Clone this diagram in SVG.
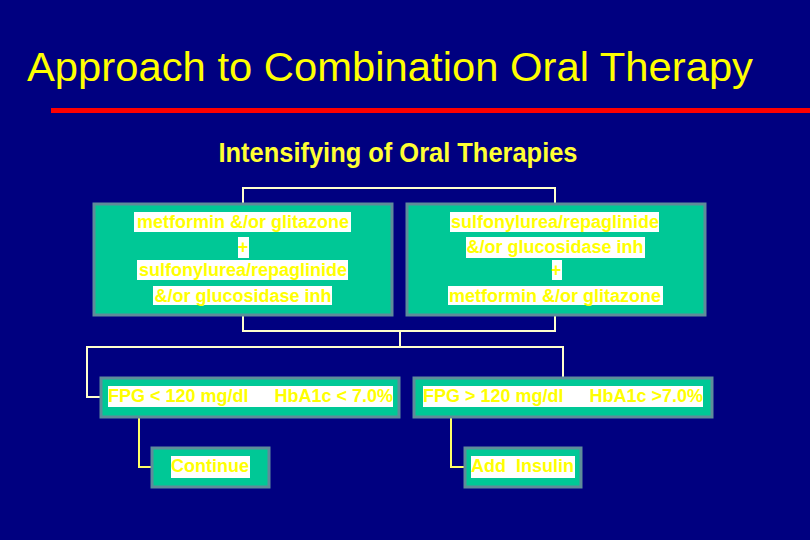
<svg xmlns="http://www.w3.org/2000/svg" width="810" height="540" viewBox="0 0 810 540">
<style>
.box{fill:#00C896;stroke:#5E8C9A;stroke-width:3}
.hl{fill:#FFFFFF}
.t{font-family:"Liberation Sans",Arial,sans-serif;font-weight:bold;font-size:18px;fill:#FFFF00}
.c{text-anchor:middle}
.ln{fill:none;stroke:#FFFFCC;stroke-width:2}
.ln2{fill:none;stroke:#FFFF66;stroke-width:2}
</style>
<rect x="0" y="0" width="810" height="540" fill="#000080"/>
<text x="27" y="81" font-family="Liberation Sans,Arial,sans-serif" font-size="41" fill="#FFFF00" textLength="726" lengthAdjust="spacingAndGlyphs">Approach to Combination Oral Therapy</text>
<rect x="51" y="108" width="759" height="5" fill="#FF0000"/>
<text x="398" y="162" font-family="Liberation Sans,Arial,sans-serif" font-weight="bold" font-size="27" fill="#FFFF33" text-anchor="middle" textLength="359" lengthAdjust="spacingAndGlyphs">Intensifying of Oral Therapies</text>
<g id="connectors">
<polyline class="ln" points="243,204 243,188 555,188 555,204"/>
<polyline class="ln" points="243,315 243,331 555,331 555,315"/>
<line class="ln" x1="400" y1="331" x2="400" y2="347"/>
<polyline class="ln" points="101,397 87,397 87,347 563,347 563,378"/>
<polyline class="ln2" points="139,417 139,467 152,467"/>
<polyline class="ln2" points="451,417 451,467 465,467"/>
</g>
<g id="box1">
<rect class="box" x="94" y="204" width="298" height="111"/>
<rect class="hl" x="134" y="212" width="217" height="20"/>
<rect class="hl" x="238" y="237" width="11" height="21"/>
<rect class="hl" x="137" y="260" width="211" height="20"/>
<rect class="hl" x="153" y="286" width="179" height="19"/>
<text class="t c" x="243" y="228">metformin &amp;/or glitazone</text>
<text class="t c" x="243" y="253">+</text>
<text class="t c" x="243" y="276">sulfonylurea/repaglinide</text>
<text class="t c" x="243" y="302">&amp;/or glucosidase inh</text>
</g>
<g id="box2">
<rect class="box" x="407" y="204" width="298" height="111"/>
<rect class="hl" x="450" y="212" width="209" height="20"/>
<rect class="hl" x="466" y="237" width="179" height="21"/>
<rect class="hl" x="552" y="260" width="10" height="20"/>
<rect class="hl" x="448" y="286" width="215" height="19"/>
<text class="t c" x="555" y="228">sulfonylurea/repaglinide</text>
<text class="t c" x="555" y="253">&amp;/or glucosidase inh</text>
<text class="t c" x="556" y="276">+</text>
<text class="t c" x="555" y="302">metformin &amp;/or glitazone</text>
</g>
<g id="box3">
<rect class="box" x="101" y="378" width="298" height="39"/>
<rect class="hl" x="108" y="386" width="285" height="21"/>
<text class="t" x="108" y="402">FPG &lt; 120 mg/dl</text>
<text class="t" x="393" y="402" text-anchor="end">HbA1c &lt; 7.0%</text>
</g>
<g id="box4">
<rect class="box" x="414" y="378" width="298" height="39"/>
<rect class="hl" x="423" y="386" width="280" height="21"/>
<text class="t" x="423" y="402">FPG &gt; 120 mg/dl</text>
<text class="t" x="703" y="402" text-anchor="end">HbA1c &gt;7.0%</text>
</g>
<g id="box5">
<rect class="box" x="152" y="448" width="117" height="39"/>
<rect class="hl" x="171" y="456" width="79" height="22"/>
<text class="t" x="171" y="472">Continue</text>
</g>
<g id="box6">
<rect class="box" x="465" y="448" width="116" height="39"/>
<rect class="hl" x="471" y="456" width="104" height="22"/>
<text class="t" x="471" y="472" xml:space="preserve">Add  Insulin</text>
</g>
</svg>
